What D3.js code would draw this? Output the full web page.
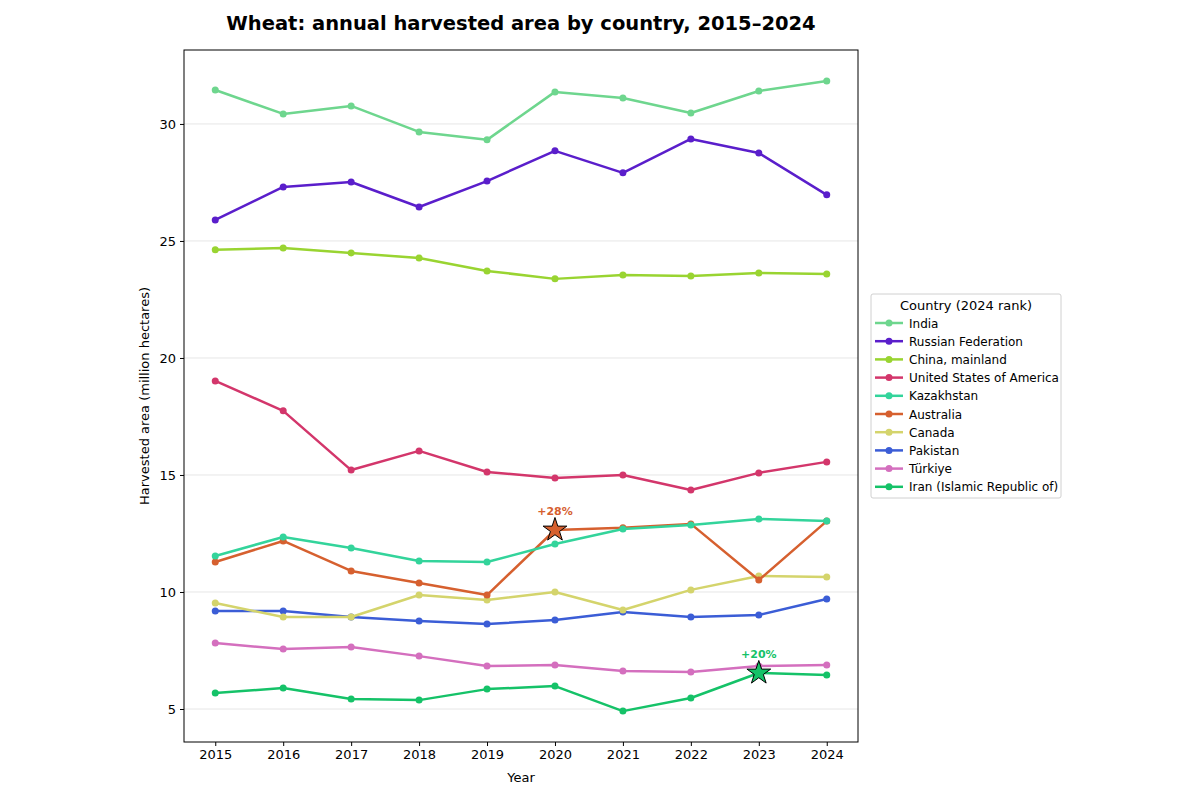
<!DOCTYPE html>
<html>
<head>
<meta charset="utf-8">
<script src="https://cdn.jsdelivr.net/npm/d3@7"></script>
<style>
  body { margin: 0; background: #fff; }
  svg { font-family: "DejaVu Sans", sans-serif; }
</style>
</head>
<body>
<script>
var years = [2015, 2016, 2017, 2018, 2019, 2020, 2021, 2022, 2023, 2024];
var countries = ['India', 'Russian Federation', 'China, mainland', 'United States of America',
  'Kazakhstan', 'Australia', 'Canada', 'Pakistan', 'Türkiye', 'Iran (Islamic Republic of)'];
var colors = ['#6ed68e', '#5a1ecb', '#99d431', '#d3366b', '#33d49b', '#d6602f', '#d4d46c', '#3b5dd6', '#d46fbe', '#15c268'];

var india = [31.45, 30.43, 30.77, 29.66, 29.32, 31.37, 31.11, 30.47, 31.41, 31.84];
var russia = [25.90, 27.31, 27.52, 26.45, 27.56, 28.85, 27.91, 29.36, 28.76, 26.97];
var china = [24.62, 24.70, 24.49, 24.27, 23.72, 23.38, 23.55, 23.50, 23.63, 23.59];
var usa = [19.02, 17.74, 15.21, 16.03, 15.13, 14.87, 15.00, 14.36, 15.09, 15.56];
var kazakhstan = [11.54, 12.35, 11.88, 11.32, 11.28, 12.05, 12.69, 12.86, 13.12, 13.03];
var australia = [11.28, 12.18, 10.90, 10.38, 9.87, 12.65, 12.74, 12.91, 10.51, 13.03];
var canada = [9.53, 8.93, 8.93, 9.87, 9.66, 10.00, 9.23, 10.09, 10.68, 10.64];
var pakistan = [9.19, 9.19, 8.93, 8.76, 8.63, 8.80, 9.15, 8.93, 9.02, 9.70];
var turkiye = [7.82, 7.56, 7.65, 7.26, 6.84, 6.88, 6.62, 6.58, 6.84, 6.88];
var iran = [5.68, 5.90, 5.43, 5.38, 5.85, 5.98, 4.91, 5.47, 6.54, 6.45];
var series = [india, russia, china, usa, kazakhstan, australia, canada, pakistan, turkiye, iran];

// highlighted jumps: [series index, year]
var highlights = [[5, 2020], [9, 2023]];
var yTicks = [5, 10, 15, 20, 25, 30];

var width = 1200, height = 800;
var margin = {left: 184, right: 342, top: 50, bottom: 58};

var svg = d3.select('body').append('svg')
  .attr('width', width)
  .attr('height', height);

var x = d3.scaleLinear().domain([2014.54, 2024.46]).range([margin.left, width - margin.right]);
var y = d3.scaleLinear().domain([3.59, 33.16]).range([height - margin.bottom, margin.top]);

// grid
svg.append('g').selectAll('line')
  .data(yTicks)
  .enter().append('line')
  .attr('x1', margin.left).attr('x2', width - margin.right)
  .attr('y1', function(d) { return y(d); }).attr('y2', function(d) { return y(d); })
  .attr('stroke', '#e6e6e6').attr('stroke-width', 1);

var xAxis = svg.append('g')
  .attr('transform', 'translate(0,' + (height - margin.bottom) + ')')
  .call(d3.axisBottom(x).tickValues(years).tickFormat(d3.format('d')).tickSize(4).tickPadding(4));
var yAxis = svg.append('g')
  .attr('transform', 'translate(' + margin.left + ',0)')
  .call(d3.axisLeft(y).tickValues(yTicks).tickSize(4).tickPadding(4));
[xAxis, yAxis].forEach(function(a) {
  a.select('.domain').remove();
  a.selectAll('text').style('font-size', '13px').attr('fill', '#000')
    .style('font-family', '"DejaVu Sans", sans-serif');
  a.selectAll('line').attr('stroke', '#000').attr('stroke-width', 1);
});

svg.append('rect')
  .attr('x', margin.left).attr('y', margin.top)
  .attr('width', width - margin.right - margin.left)
  .attr('height', height - margin.bottom - margin.top)
  .attr('fill', 'none').attr('stroke', '#000').attr('stroke-width', 1);

var line = d3.line()
  .x(function(d, i) { return x(years[i]); })
  .y(function(d) { return y(d); });

// draw from last to first so India ends on top
var order = d3.range(series.length).reverse();
order.forEach(function(k) {
  var g = svg.append('g');
  g.append('path')
    .attr('d', line(series[k]))
    .attr('fill', 'none')
    .attr('stroke', colors[k])
    .attr('stroke-width', 2.5)
    .attr('stroke-linejoin', 'round');
  g.selectAll('circle')
    .data(series[k])
    .enter().append('circle')
    .attr('cx', function(d, i) { return x(years[i]); })
    .attr('cy', function(d) { return y(d); })
    .attr('r', 3.5)
    .attr('fill', colors[k]);
});

var star = d3.symbol().type(d3.symbolStar).size(175);
highlights.forEach(function(h) {
  var k = h[0], i = years.indexOf(h[1]);
  var v = series[k][i], prev = series[k][i - 1];
  var pct = Math.round((v / prev - 1) * 100);
  svg.append('path')
    .attr('d', star)
    .attr('transform', 'translate(' + x(h[1]) + ',' + y(v) + ')')
    .attr('fill', colors[k])
    .attr('stroke', '#000')
    .attr('stroke-width', 1);
  svg.append('text')
    .attr('x', x(h[1]))
    .attr('y', y(v) - 15)
    .attr('text-anchor', 'middle')
    .style('font-size', '11px')
    .style('font-weight', 'bold')
    .attr('fill', colors[k])
    .text('+' + pct + '%');
});

// title and labels
svg.append('text')
  .attr('x', (margin.left + width - margin.right) / 2)
  .attr('y', 30)
  .attr('text-anchor', 'middle')
  .style('font-size', '19.5px')
  .style('font-weight', 'bold')
  .text('Wheat: annual harvested area by country, 2015–2024');

svg.append('text')
  .attr('x', (margin.left + width - margin.right) / 2)
  .attr('y', 782)
  .attr('text-anchor', 'middle')
  .style('font-size', '13px')
  .text('Year');

svg.append('text')
  .attr('transform', 'translate(149,' + (margin.top + height - margin.bottom) / 2 + ') rotate(-90)')
  .attr('text-anchor', 'middle')
  .style('font-size', '13px')
  .text('Harvested area (million hectares)');

// legend
var lg = svg.append('g').attr('transform', 'translate(871,294)');
lg.append('rect')
  .attr('width', 190).attr('height', 204)
  .attr('rx', 2)
  .attr('fill', '#fff').attr('stroke', '#d0d0d0');
lg.append('text')
  .attr('x', 95).attr('y', 16)
  .attr('text-anchor', 'middle')
  .style('font-size', '13px')
  .text('Country (2024 rank)');
var items = lg.selectAll('.item')
  .data(countries)
  .enter().append('g')
  .attr('transform', function(d, i) { return 'translate(0,' + (29 + i * 18.2) + ')'; });
items.append('line')
  .attr('x1', 4).attr('x2', 32)
  .attr('stroke', function(d, i) { return colors[i]; })
  .attr('stroke-width', 2.5);
items.append('circle')
  .attr('cx', 18).attr('r', 3.5)
  .attr('fill', function(d, i) { return colors[i]; });
items.append('text')
  .attr('x', 38).attr('y', 4.5)
  .style('font-size', '12px')
  .text(function(d) { return d; });
</script>
</body>
</html>
